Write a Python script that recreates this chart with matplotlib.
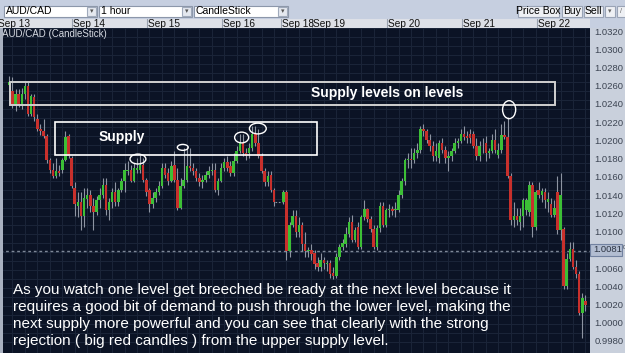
import numpy as np
import matplotlib.pyplot as plt
from matplotlib.patches import Rectangle, Ellipse

plt.rcParams['font.family'] = ['Liberation Sans', 'DejaVu Sans']

W, H = 625, 353

# hourly AUD/CAD candles, slot index (Sep 13 00:00 = 0), gap over the weekend
idx = list(range(3, 89)) + list(range(91, 189))
opens = [1.0267, 1.0260, 1.0245, 1.0256, 1.0245, 1.0256, 1.0265, 1.0234, 1.0253, 1.0229,
         1.0218, 1.0215, 1.0210, 1.0183, 1.0172, 1.0165, 1.0171, 1.0172, 1.0183, 1.0210,
         1.0185, 1.0152, 1.0132, 1.0136, 1.0121, 1.0139, 1.0144, 1.0132, 1.0125, 1.0138,
         1.0144, 1.0155, 1.0127, 1.0136, 1.0147, 1.0136, 1.0149, 1.0160, 1.0171, 1.0172,
         1.0160, 1.0172, 1.0172, 1.0177, 1.0161, 1.0149, 1.0134, 1.0141, 1.0147, 1.0154,
         1.0174, 1.0169, 1.0160, 1.0177, 1.0161, 1.0130, 1.0154, 1.0161, 1.0176, 1.0174,
         1.0171, 1.0163, 1.0158, 1.0161, 1.0166, 1.0171, 1.0172, 1.0149, 1.0160, 1.0174,
         1.0181, 1.0176, 1.0169, 1.0182, 1.0193, 1.0202, 1.0191, 1.0191, 1.0196, 1.0212,
         1.0202, 1.0187, 1.0171, 1.0158, 1.0166, 1.0150,
         1.0136, 1.0147, 1.0081, 1.0110, 1.0121, 1.0103, 1.0110, 1.0089, 1.0081, 1.0083,
         1.0079, 1.0068, 1.0064, 1.0072, 1.0067, 1.0068, 1.0057, 1.0054, 1.0075, 1.0086,
         1.0089, 1.0100, 1.0114, 1.0094, 1.0108, 1.0086, 1.0119, 1.0128, 1.0117, 1.0106,
         1.0086, 1.0107, 1.0132, 1.0111, 1.0127, 1.0128, 1.0127, 1.0127, 1.0144, 1.0160,
         1.0183, 1.0184, 1.0183, 1.0191, 1.0194, 1.0218, 1.0215, 1.0205, 1.0198, 1.0187,
         1.0185, 1.0202, 1.0194, 1.0185, 1.0187, 1.0193, 1.0202, 1.0204, 1.0212, 1.0210,
         1.0212, 1.0212, 1.0199, 1.0187, 1.0198, 1.0202, 1.0191, 1.0193, 1.0205, 1.0188,
         1.0194, 1.0211, 1.0209, 1.0165, 1.0116, 1.0121, 1.0114, 1.0121, 1.0127, 1.0125,
         1.0155, 1.0108, 1.0150, 1.0144, 1.0147, 1.0136, 1.0134, 1.0122, 1.0147, 1.0105,
         1.0106, 1.0042, 1.0073, 1.0084, 1.0064, 1.0056, 1.0013, 1.0026]
highs = [1.0276, 1.0275, 1.0262, 1.0262, 1.0263, 1.0270, 1.0270, 1.0256, 1.0256, 1.0234,
         1.0223, 1.0229, 1.0212, 1.0185, 1.0180, 1.0185, 1.0177, 1.0185, 1.0215, 1.0212,
         1.0187, 1.0158, 1.0147, 1.0147, 1.0152, 1.0152, 1.0149, 1.0141, 1.0143, 1.0152,
         1.0163, 1.0163, 1.0141, 1.0152, 1.0158, 1.0152, 1.0163, 1.0180, 1.0182, 1.0177,
         1.0180, 1.0185, 1.0188, 1.0185, 1.0163, 1.0152, 1.0147, 1.0152, 1.0160, 1.0180,
         1.0180, 1.0174, 1.0182, 1.0193, 1.0174, 1.0163, 1.0196, 1.0198, 1.0196, 1.0180,
         1.0174, 1.0169, 1.0166, 1.0171, 1.0176, 1.0180, 1.0180, 1.0163, 1.0180, 1.0185,
         1.0187, 1.0182, 1.0191, 1.0198, 1.0212, 1.0212, 1.0196, 1.0202, 1.0221, 1.0221,
         1.0218, 1.0191, 1.0174, 1.0171, 1.0171, 1.0152,
         1.0149, 1.0149, 1.0114, 1.0127, 1.0127, 1.0119, 1.0114, 1.0103, 1.0086, 1.0089,
         1.0083, 1.0075, 1.0079, 1.0075, 1.0072, 1.0072, 1.0064, 1.0079, 1.0089, 1.0095,
         1.0108, 1.0119, 1.0122, 1.0108, 1.0114, 1.0122, 1.0138, 1.0130, 1.0121, 1.0110,
         1.0111, 1.0136, 1.0136, 1.0130, 1.0134, 1.0132, 1.0136, 1.0149, 1.0163, 1.0185,
         1.0191, 1.0196, 1.0196, 1.0202, 1.0221, 1.0223, 1.0218, 1.0212, 1.0204, 1.0202,
         1.0205, 1.0207, 1.0198, 1.0193, 1.0196, 1.0207, 1.0207, 1.0218, 1.0221, 1.0215,
         1.0218, 1.0215, 1.0207, 1.0204, 1.0207, 1.0210, 1.0196, 1.0212, 1.0218, 1.0202,
         1.0223, 1.0226, 1.0231, 1.0169, 1.0136, 1.0130, 1.0130, 1.0141, 1.0141, 1.0160,
         1.0158, 1.0149, 1.0158, 1.0152, 1.0152, 1.0147, 1.0141, 1.0138, 1.0165, 1.0169,
         1.0108, 1.0079, 1.0092, 1.0092, 1.0072, 1.0059, 1.0035, 1.0032]
lows = [1.0265, 1.0241, 1.0237, 1.0242, 1.0240, 1.0251, 1.0232, 1.0232, 1.0226, 1.0215,
        1.0211, 1.0207, 1.0180, 1.0169, 1.0163, 1.0163, 1.0165, 1.0169, 1.0182, 1.0185,
        1.0152, 1.0121, 1.0119, 1.0105, 1.0108, 1.0130, 1.0125, 1.0105, 1.0122, 1.0130,
        1.0141, 1.0122, 1.0116, 1.0130, 1.0132, 1.0132, 1.0147, 1.0147, 1.0166, 1.0158,
        1.0158, 1.0169, 1.0169, 1.0158, 1.0143, 1.0125, 1.0130, 1.0136, 1.0144, 1.0152,
        1.0163, 1.0155, 1.0158, 1.0158, 1.0127, 1.0128, 1.0152, 1.0158, 1.0171, 1.0166,
        1.0160, 1.0154, 1.0152, 1.0158, 1.0163, 1.0166, 1.0147, 1.0144, 1.0158, 1.0171,
        1.0171, 1.0165, 1.0165, 1.0180, 1.0191, 1.0187, 1.0183, 1.0185, 1.0193, 1.0198,
        1.0185, 1.0169, 1.0154, 1.0154, 1.0147, 1.0132,
        1.0134, 1.0072, 1.0075, 1.0108, 1.0097, 1.0097, 1.0081, 1.0075, 1.0075, 1.0072,
        1.0061, 1.0059, 1.0059, 1.0061, 1.0059, 1.0051, 1.0050, 1.0051, 1.0072, 1.0083,
        1.0086, 1.0097, 1.0092, 1.0092, 1.0084, 1.0084, 1.0116, 1.0114, 1.0103, 1.0084,
        1.0083, 1.0103, 1.0108, 1.0108, 1.0119, 1.0122, 1.0119, 1.0125, 1.0141, 1.0155,
        1.0174, 1.0174, 1.0180, 1.0185, 1.0191, 1.0210, 1.0202, 1.0193, 1.0182, 1.0182,
        1.0180, 1.0191, 1.0180, 1.0171, 1.0182, 1.0191, 1.0196, 1.0202, 1.0205, 1.0202,
        1.0202, 1.0196, 1.0183, 1.0182, 1.0191, 1.0182, 1.0185, 1.0191, 1.0191, 1.0185,
        1.0191, 1.0206, 1.0163, 1.0111, 1.0108, 1.0111, 1.0105, 1.0108, 1.0122, 1.0121,
        1.0097, 1.0105, 1.0141, 1.0136, 1.0130, 1.0125, 1.0119, 1.0119, 1.0100, 1.0094,
        1.0039, 1.0039, 1.0070, 1.0061, 1.0052, 1.0010, 0.9985, 1.0015]
closes = [1.0270, 1.0243, 1.0256, 1.0245, 1.0256, 1.0265, 1.0234, 1.0254, 1.0231, 1.0218,
          1.0215, 1.0210, 1.0183, 1.0172, 1.0165, 1.0171, 1.0169, 1.0183, 1.0209, 1.0187,
          1.0154, 1.0134, 1.0136, 1.0121, 1.0141, 1.0144, 1.0132, 1.0125, 1.0138, 1.0144,
          1.0155, 1.0127, 1.0136, 1.0147, 1.0136, 1.0149, 1.0160, 1.0172, 1.0172, 1.0160,
          1.0174, 1.0174, 1.0177, 1.0161, 1.0147, 1.0134, 1.0141, 1.0147, 1.0154, 1.0174,
          1.0166, 1.0160, 1.0176, 1.0161, 1.0130, 1.0154, 1.0161, 1.0176, 1.0174, 1.0171,
          1.0163, 1.0158, 1.0161, 1.0166, 1.0171, 1.0172, 1.0149, 1.0160, 1.0174, 1.0181,
          1.0174, 1.0169, 1.0182, 1.0193, 1.0202, 1.0191, 1.0187, 1.0196, 1.0212, 1.0202,
          1.0187, 1.0171, 1.0158, 1.0165, 1.0150, 1.0136,
          1.0147, 1.0081, 1.0110, 1.0121, 1.0103, 1.0110, 1.0089, 1.0081, 1.0083, 1.0078,
          1.0067, 1.0064, 1.0072, 1.0068, 1.0068, 1.0056, 1.0054, 1.0075, 1.0086, 1.0090,
          1.0100, 1.0114, 1.0094, 1.0105, 1.0086, 1.0119, 1.0128, 1.0117, 1.0106, 1.0086,
          1.0107, 1.0132, 1.0111, 1.0127, 1.0128, 1.0126, 1.0128, 1.0144, 1.0160, 1.0183,
          1.0184, 1.0183, 1.0191, 1.0194, 1.0218, 1.0215, 1.0205, 1.0198, 1.0187, 1.0193,
          1.0202, 1.0194, 1.0185, 1.0187, 1.0193, 1.0202, 1.0204, 1.0212, 1.0209, 1.0207,
          1.0207, 1.0199, 1.0187, 1.0199, 1.0199, 1.0191, 1.0193, 1.0205, 1.0194, 1.0194,
          1.0211, 1.0209, 1.0165, 1.0116, 1.0121, 1.0116, 1.0121, 1.0138, 1.0138, 1.0155,
          1.0108, 1.0147, 1.0144, 1.0148, 1.0138, 1.0139, 1.0122, 1.0130, 1.0105, 1.0144,
          1.0042, 1.0073, 1.0084, 1.0064, 1.0056, 1.0013, 1.0029, 1.0021]

price_ticks = [0.9980, 1.0000, 1.0020, 1.0040, 1.0060, 1.0080, 1.0100, 1.0120, 1.0140,
               1.0160, 1.0180, 1.0200, 1.0220, 1.0240, 1.0260, 1.0280, 1.0300, 1.0320]
last_price = 1.0081
day_starts = [-0.5, 23.5, 47.5, 71.5, 90.5, 100.5, 124.5, 148.5, 172.5]
day_labels = ['Sep 13', 'Sep 14', 'Sep 15', 'Sep 16', 'Sep 18', 'Sep 19', 'Sep 20', 'Sep 21', 'Sep 22']

notes = ["As you watch one level get breeched be ready at the next level because it",
         "requires a good bit of demand to push through the lower level, making the",
         "next supply more powerful and you can see that clearly with the strong",
         "rejection ( big red candles ) from the upper supply level."]

XLIM = (0.43, 189.47)
YLIM = (0.99679, 1.03244)


def px(x, y, w, h):
    # pixel box (top-left origin) -> figure fraction
    return (x / W, 1 - (y + h) / H, w / W, h / H)


def fig_rect(x, y, w, h, fc, ec='none', lw=0.8):
    fig.patches.append(Rectangle((x / W, 1 - (y + h) / H), w / W, h / H, transform=fig.transFigure,
                                 facecolor=fc, edgecolor=ec, linewidth=lw))


fig = plt.figure(figsize=(W / 100, H / 100), dpi=100)
fig.patch.set_facecolor('#c6cfe0')

# toolbar
for x0, x1, label in [(4, 97, 'AUD/CAD'), (99, 192, '1 hour'), (194, 288, 'CandleStick')]:
    fig_rect(x0, 6, x1 - x0, 11, 'white', '#8c97aa')
    fig_rect(x1 - 10, 7, 9, 9, '#e4e8ef', '#a0aabb')
    fig.text((x1 - 5.5) / W, 1 - 11.5 / H, '\u25be', fontsize=5, ha='center', va='center', color='#555')
    fig.text((x0 + 2) / W, 1 - 11.5 / H, label, fontsize=7.5, va='center', color='black')
for x0, x1, label in [(518, 559, 'Price Box'), (562, 582, 'Buy'), (584, 603, 'Sell'),
                      (605, 615, '\u25be'), (617, 626, '/')]:
    fig_rect(x0, 6, x1 - x0, 11, '#eef0f4', '#9aa4b6')
    fig.text((x0 + x1) / 2 / W, 1 - 11.5 / H, label, fontsize=7.5 if len(label) > 1 else 5,
             ha='center', va='center', color='black' if len(label) > 1 else '#666')

# date bar
axd = fig.add_axes(px(0, 19, 590, 9))
axd.set_facecolor('#dde0e7')
axd.set_xlim(*XLIM)
axd.set_ylim(0, 1)
axd.set_xticks([])
axd.set_yticks([])
for s in axd.spines.values():
    s.set_visible(False)
for d, lab in zip(day_starts, day_labels):
    axd.axvline(d, color='#9aa2b0', lw=0.8)
    axd.text(d + 0.3, 0.45, lab, fontsize=7.3, va='center', color='#111', clip_on=True)

# main chart
ax = fig.add_axes(px(0, 28, 590, 325))
ax.set_facecolor('#0b1325')
ax.set_xlim(*XLIM)
ax.set_ylim(*YLIM)
ax.set_yticks(price_ticks)
ax.set_yticks([t + 0.001 for t in price_ticks], minor=True)
ax.set_xticks(np.arange(0, 190, 4))
ax.tick_params(which='both', length=0, labelleft=False, labelbottom=False)
ax.grid(True, which='both', color='#1b2539', lw=0.7)
ax.set_axisbelow(True)
for s in ax.spines.values():
    s.set_visible(False)

o, hi, lo, c = map(np.array, (opens, highs, lows, closes))
up = c >= o
ax.vlines(idx, lo, hi, color='#8d94a2', lw=0.8, zorder=2)
ax.bar(idx, np.maximum(np.abs(c - o), 0.00009), bottom=np.minimum(o, c), width=0.8,
       color=np.where(up, '#3cbf36', '#c8302c'), lw=0, zorder=3)
ax.plot([88.4, 90.6], [closes[85], closes[85]], color='#8d94a2', ls=(0, (1.5, 1.5)), lw=0.8)
ax.axhline(last_price, color='#7e8898', ls=(0, (2, 2)), lw=1, zorder=1)

ax.text(0.004, 0.997, 'AUD/CAD (CandleStick)', transform=ax.transAxes, va='top',
        fontsize=7, color='#d6dae2')

# supply zones and marked highs
ax.add_patch(Rectangle((3.3, 1.0244), 175.0, 0.0026, fill=False, ec='#d0d0d0', lw=1.4, zorder=4))
ax.add_patch(Rectangle((17.7, 1.0188), 84.0, 0.0037, fill=False, ec='white', lw=1.2, zorder=4))
ax.text(99.8, 1.02575, 'Supply levels on levels', fontsize=10, fontweight='bold', color='white',
        va='center', zorder=5)
ax.text(31.5, 1.0209, 'Supply', fontsize=10, fontweight='bold', color='white', va='center', zorder=5)
for ex, ey, ew, eh in [(44.3, 1.0184, 5.1, 0.0011), (58.7, 1.0197, 3.5, 0.00066),
                       (77.6, 1.0208, 4.5, 0.0012), (82.8, 1.0218, 5.4, 0.0012),
                       (163.5, 1.0239, 4.2, 0.0020)]:
    ax.add_patch(Ellipse((ex, ey), ew, eh, fill=False, ec='white', lw=1.0, zorder=5))

# left border strip
fig_rect(0, 28, 3, 325, '#a9b1c0')

# price scale
axr = fig.add_axes(px(590, 28, 35, 325))
axr.set_facecolor('#c9d0dc')
axr.set_xlim(0, 1)
axr.set_ylim(*YLIM)
axr.set_xticks([])
axr.set_yticks([])
for s in axr.spines.values():
    s.set_visible(False)
for t in price_ticks:
    if abs(t - 1.0080) < 1e-6:
        continue
    axr.text(0.12, t, f'{t:.4f}', fontsize=6.8, va='center', color='#3c4452')
axr.add_patch(Rectangle((0.0, last_price - 0.00068), 0.9, 0.00136, fc='#b2bdd1', ec='#7282a0', lw=0.8))
axr.text(0.08, last_price, f'{last_price:.4f}', fontsize=6.8, va='center', color='#2c3442')
axr.text(0.94, last_price + 0.0003, '0', fontsize=4, va='center', color='#2c3442')

# commentary
for k, line in enumerate(notes):
    fig.text(13 / W, 1 - (294 + 17 * k) / H, line, fontsize=11, color='white', va='baseline')

fig.savefig('out.png', dpi=100, facecolor=fig.get_facecolor())
